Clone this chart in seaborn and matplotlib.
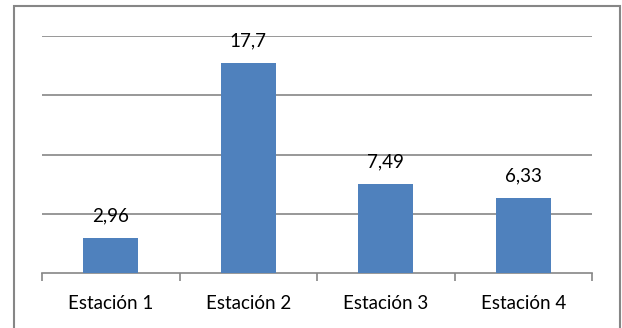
import matplotlib
matplotlib.use("Agg")
import matplotlib.pyplot as plt
import seaborn as sns
import pandas as pd
from matplotlib.patches import Rectangle

estaciones = ["Estación 1", "Estación 2", "Estación 3", "Estación 4"]
valores = [2.96, 17.7, 7.49, 6.33]
etiquetas = ["2,96", "17,7", "7,49", "6,33"]

sns.set_style("white")
plt.rcParams["font.family"] = ["Lato", "DejaVu Sans"]

df = pd.DataFrame({"estacion": estaciones, "valor": valores})

W, H = 622, 328
fig = plt.figure(figsize=(W / 100, H / 100), dpi=100)
ax = fig.add_axes([42 / W, 55 / H, 550 / W, 237 / H])

sns.barplot(data=df, x="estacion", y="valor", color="#4F81BD", saturation=1,
            width=0.4, linewidth=0, ax=ax, zorder=3)

ax.set_ylim(0, 20)
ax.set_xlim(-0.5, 3.5)
ax.set_yticks([5, 10, 15, 20])
ax.yaxis.grid(True, color="#868686", linewidth=1.2, zorder=0)
ax.set_axisbelow(True)
ax.tick_params(axis="y", left=False, labelleft=False)
for s in ["top", "right", "left"]:
    ax.spines[s].set_visible(False)
ax.spines["bottom"].set_color("#868686")
ax.spines["bottom"].set_linewidth(1.2)

# ticks between categories, labels centred under bars
ax.set_xticks([-0.5, 0.5, 1.5, 2.5, 3.5], minor=True)
ax.tick_params(axis="x", which="minor", bottom=True, length=6, width=1.2,
               color="#868686", direction="out")
ax.tick_params(axis="x", which="major", bottom=False, labelsize=13.5,
               pad=12, labelcolor="black")
ax.set_xlabel("")
ax.set_ylabel("")

for i, (v, t) in enumerate(zip(valores, etiquetas)):
    ax.annotate(t, (i, v), xytext=(0, 10), textcoords="offset points",
                ha="center", va="bottom", fontsize=13.5, color="black")

fig.patches.append(Rectangle((13.5 / W, -0.05), 606 / W, (H - 6.5) / H + 0.05,
                             transform=fig.transFigure, fill=False,
                             edgecolor="#868686", linewidth=1.5))

fig.savefig("out.png", dpi=100)
